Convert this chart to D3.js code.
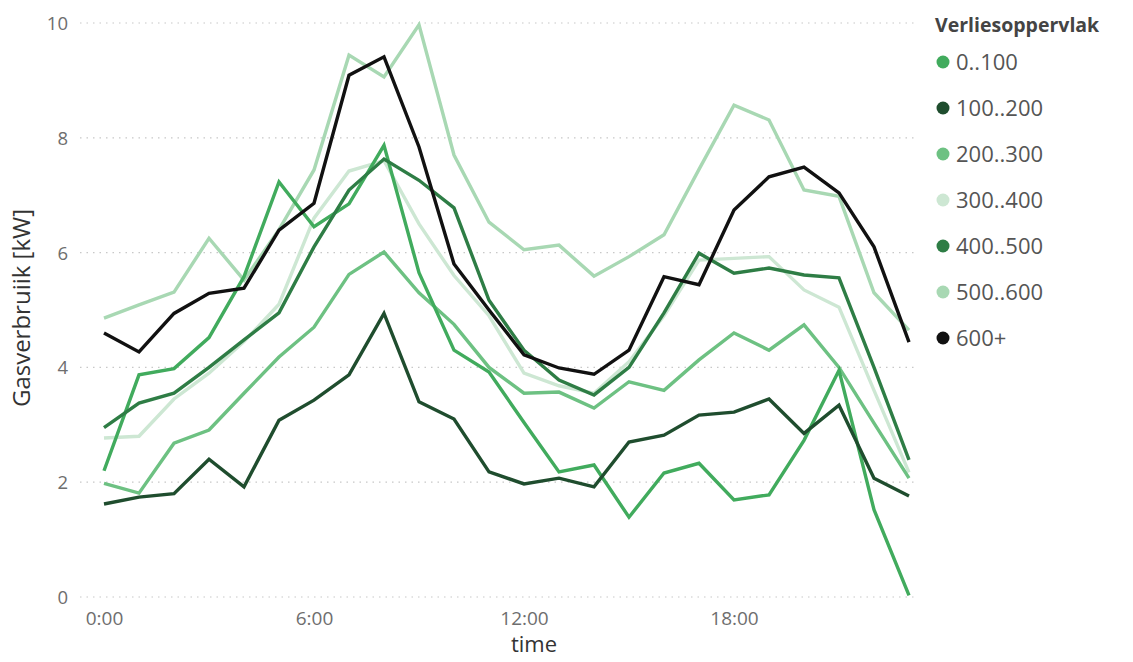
<!DOCTYPE html>
<html><head><meta charset="utf-8">
<script src="https://cdn.jsdelivr.net/npm/d3@7"></script>
<style>
html,body{margin:0;padding:0;background:#fff;}
text{font-family:"Segoe UI","Open Sans","Noto Sans",sans-serif;}
</style></head>
<body><svg id="c" width="1133" height="662"></svg>
<script>
const hours = d3.range(0, 24);
const xTickHours = [0, 6, 12, 18];
const xTickLabels = ["0:00", "6:00", "12:00", "18:00"];
const yTicks = [0, 2, 4, 6, 8, 10];
const categories = ["0..100", "100..200", "200..300", "300..400", "400..500", "500..600", "600+"];
const colors = ["#41ab5d", "#1f4d2e", "#6dc182", "#cde7d3", "#2e7d45", "#a8d8b3", "#111111"];

const s0_100   = [2.2, 3.87, 3.98, 4.52, 5.58, 7.23, 6.45, 6.85, 7.87, 5.65, 4.3, 3.92, 3.04, 2.18, 2.3, 1.39, 2.16, 2.33, 1.69, 1.78, 2.73, 3.95, 1.52, 0.03];
const s100_200 = [1.62, 1.74, 1.8, 2.4, 1.92, 3.08, 3.43, 3.87, 4.94, 3.4, 3.1, 2.18, 1.97, 2.07, 1.92, 2.7, 2.82, 3.17, 3.22, 3.45, 2.85, 3.34, 2.07, 1.76];
const s200_300 = [1.98, 1.81, 2.68, 2.91, 3.55, 4.18, 4.7, 5.62, 6.01, 5.3, 4.75, 4.0, 3.55, 3.57, 3.29, 3.75, 3.6, 4.13, 4.6, 4.3, 4.74, 4.0, 3.03, 2.07];
const s300_400 = [2.77, 2.8, 3.45, 3.9, 4.45, 5.1, 6.6, 7.42, 7.6, 6.5, 5.6, 4.9, 3.9, 3.68, 3.55, 4.1, 4.9, 5.87, 5.9, 5.93, 5.35, 5.05, 3.6, 2.17];
const s400_500 = [2.95, 3.38, 3.55, 4.0, 4.48, 4.95, 6.1, 7.09, 7.63, 7.26, 6.78, 5.17, 4.3, 3.78, 3.52, 4.0, 4.95, 5.99, 5.64, 5.73, 5.61, 5.56, 4.0, 2.39];
const s500_600 = [4.86, 5.09, 5.31, 6.25, 5.52, 6.4, 7.44, 9.44, 9.06, 9.97, 7.7, 6.53, 6.05, 6.13, 5.59, 5.93, 6.31, 7.45, 8.57, 8.31, 7.09, 6.98, 5.3, 4.65];
const s600     = [4.6, 4.27, 4.94, 5.29, 5.38, 6.39, 6.86, 9.09, 9.41, 7.84, 5.8, 5.0, 4.22, 3.99, 3.88, 4.3, 5.58, 5.44, 6.74, 7.32, 7.49, 7.04, 6.1, 4.44];

const seriesValues = [s0_100, s100_200, s200_300, s300_400, s400_500, s500_600, s600];
const drawOrder = [5, 3, 2, 0, 4, 1, 6];

const svg = d3.select("#c");
const x = d3.scaleLinear().domain([0, 23]).range([104, 909]);
const y = d3.scaleLinear().domain([0, 10]).range([597, 23]);

// grid
svg.append("g").selectAll("line").data(yTicks).join("line")
  .attr("x1", 80).attr("x2", 918)
  .attr("y1", d => y(d)).attr("y2", d => y(d))
  .attr("stroke", "#c8c8c8").attr("stroke-width", 1.2)
  .attr("stroke-dasharray", "1.5,5");

// y axis
const yAxis = d3.axisLeft(y).tickValues(yTicks).tickSize(0).tickPadding(0).tickFormat(d3.format("d"));
const gy = svg.append("g").attr("transform", "translate(68,0)").call(yAxis);
gy.select(".domain").remove();
gy.selectAll("text").attr("fill", "#6e6e6e").style("font-size", "18.5px").attr("dy", "0.35em").attr("x", 0);

// x axis
const xAxis = d3.axisBottom(x).tickValues(xTickHours).tickSize(0).tickPadding(0)
  .tickFormat((d, i) => xTickLabels[i]);
const gx = svg.append("g").attr("transform", "translate(0,611)").call(xAxis);
gx.select(".domain").remove();
gx.selectAll("text").attr("fill", "#6e6e6e").style("font-size", "19px").attr("dy", "0.71em");

// axis titles
svg.append("text").attr("x", 534).attr("y", 652).attr("text-anchor", "middle")
  .attr("fill", "#333").style("font-size", "22px").text("time");
svg.append("text").attr("transform", "translate(30,308) rotate(-90)").attr("text-anchor", "middle")
  .attr("fill", "#333").style("font-size", "24px").text("Gasverbruiik [kW]");

// lines
const line = d3.line().x((d, i) => x(hours[i])).y(d => y(d)).curve(d3.curveLinear);
svg.append("g").selectAll("path").data(drawOrder).join("path")
  .attr("d", k => line(seriesValues[k]))
  .attr("fill", "none")
  .attr("stroke", k => colors[k])
  .attr("stroke-width", 3.4)
  .attr("stroke-linejoin", "miter")
  .attr("stroke-linecap", "butt");

// legend
const lg = svg.append("g");
lg.append("text").attr("x", 935).attr("y", 32).attr("fill", "#444")
  .style("font-size", "19.5px").style("font-weight", "bold").text("Verliesoppervlak");
const items = lg.selectAll("g.it").data(categories).join("g").attr("class", "it")
  .attr("transform", (d, i) => `translate(943,${62 + i * 46})`);
items.append("circle").attr("r", 6.5).attr("fill", (d, i) => colors[i]);
items.append("text").attr("x", 13).attr("dy", "0.35em").attr("fill", "#555")
  .style("font-size", "22px").text(d => d);
</script></body></html>
